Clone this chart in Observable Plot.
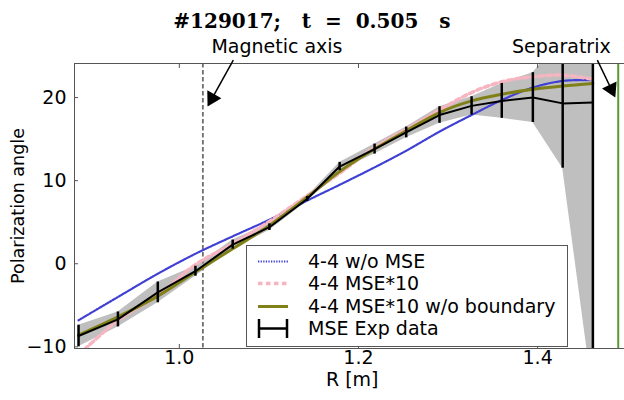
<!DOCTYPE html>
<html><head><meta charset="utf-8">
<script src="https://cdn.jsdelivr.net/npm/d3@7"></script>
<script src="https://cdn.jsdelivr.net/npm/@observablehq/plot@0.6"></script>
<style>
html,body{margin:0;padding:0;background:#fff;overflow:hidden}
#wrap{position:relative;width:624px;height:400px}
#legend{position:absolute;left:246px;top:245px}
</style></head>
<body><div id="wrap"></div>
<script>
// Major radius of each MSE channel [m]
const R = [0.8875, 0.9315, 0.976, 1.018, 1.0596, 1.1006, 1.1427, 1.179, 1.218, 1.2533, 1.2905, 1.3263, 1.360, 1.3947, 1.428, 1.4617];
// MSE experimental polarization angle and its error
const mseExp = [-8.7, -6.7, -3.45, -0.9, 2.3, 4.4, 7.8, 11.7, 13.8, 15.8, 17.9, 19.0, 19.6, 20.0, 19.3, 19.4];
const mseErr = [1.3, 0.9, 1.25, 0.6, 0.55, 0.4, 0.3, 0.5, 0.6, 0.65, 1.0, 1.1, 2.1, 3.0, 7.8, 35];
// Reconstructions
const woMSE    = [-6.8, -4.0, -1.2, 1.2, 3.3, 5.3, 7.6, 9.5, 11.6, 13.6, 15.9, 17.9, 19.7, 21.2, 22.0, 22.1];
const mse10    = [-11.0, -6.8, -3.8, -0.1, 2.4, 5.1, 8.2, 10.9, 14.0, 16.2, 18.5, 20.6, 21.9, 22.5, 22.7, 22.2];
const mse10woB = [-8.6, -6.4, -3.9, -1.0, 1.8, 4.6, 8.0, 11.1, 13.8, 16.0, 18.2, 19.6, 20.4, 21.0, 21.4, 21.7];
const seriesNames = ["4-4 w/o MSE", "4-4 MSE*10", "4-4 MSE*10 w/o boundary", "MSE Exp data"];
const xTicks = [1.0, 1.2, 1.4];
const yTicks = [-10, 0, 10, 20];
const magAxisR = 1.0263;
const separatrixR = 1.490;
// Annotations: label position, arrow tail, arrow head (R, angle)
const annLabels = ["Magnetic axis", "Separatrix"];
const annTextR = [1.109, 1.4265];
const annTextY = [26.1, 26.1];
const annTailR = [1.0603, 1.4667];
const annTailY = [24.5, 24.5];
const annHeadR = [1.0324, 1.4850];
const annHeadY = [19.1, 20.4];
const annHeadAngle = [209, 154.6];
const title = "#129017;   t  =  0.505   s";

const exp = R.map((r, i) => ({r, v: mseExp[i], lo: mseExp[i] - mseErr[i], hi: mseExp[i] + mseErr[i]}));
const models = R.flatMap((r, i) => [
  {r, v: woMSE[i], s: seriesNames[0]},
  {r, v: mse10[i], s: seriesNames[1]},
  {r, v: mse10woB[i], s: seriesNames[2]}
]);
const ann = annLabels.map((t, i) => ({t, tx: annTextR[i], ty: annTextY[i], x1: annTailR[i], y1: annTailY[i], x2: annHeadR[i], y2: annHeadY[i], a: annHeadAngle[i]}));
// triangle centre placed a bit behind the tip
const headC = ann.map(d => ({x: d.x2 - (d.x2 - d.x1) * 0.15, y: d.y2 - (d.y2 - d.y1) * 0.15, a: d.a}));

const FONT = "DejaVu Sans";
const BLUE = "#4040d4", PINK = "#f6b5c0", OLIVE = "#808018";
const chart = Plot.plot({
  width: 624, height: 400,
  marginLeft: 74, marginRight: 0, marginTop: 63, marginBottom: 52,
  style: {fontFamily: FONT, fontSize: "19px", background: "#fff", color: "#000"},
  x: {domain: [0.883, 1.497]},
  y: {domain: [-10.2, 24.1]},
  marks: [
    Plot.areaY(exp, {x: "r", y1: "lo", y2: "hi", fill: "#bfbfbf", clip: true}),
    Plot.ruleX([magAxisR], {stroke: "#6e6e6e", strokeWidth: 1.8, strokeDasharray: "4.5,2.5"}),
    Plot.ruleX([separatrixR], {stroke: "#5a9a32", strokeWidth: 2}),
    Plot.line(models.filter(d => d.s === seriesNames[0]), {x: "r", y: "v", stroke: BLUE, strokeWidth: 2.2, strokeDasharray: "1.3,1.3", curve: "catmull-rom", clip: true}),
    Plot.line(models.filter(d => d.s === seriesNames[1]), {x: "r", y: "v", stroke: PINK, strokeWidth: 3.5, strokeDasharray: "4.5,3.5", curve: "catmull-rom", clip: true}),
    Plot.line(models.filter(d => d.s === seriesNames[2]), {x: "r", y: "v", stroke: OLIVE, strokeWidth: 3, curve: "catmull-rom", clip: true}),
    Plot.line(exp, {x: "r", y: "v", stroke: "#000", strokeWidth: 2, clip: true}),
    Plot.ruleX(exp, {x: "r", y1: "lo", y2: "hi", stroke: "#000", strokeWidth: 2.5, clip: true}),
    Plot.frame({anchor: "left", stroke: "#555"}),
    Plot.frame({anchor: "bottom", stroke: "#555"}),
    Plot.frame({anchor: "top", stroke: "#555"}),
    Plot.axisX({ticks: xTicks, tickSize: 0, tickPadding: 2, tickFormat: d3.format(".1f"), label: null, fontSize: 19}),
    Plot.axisX({ticks: xTicks, tickSize: -4, tickFormat: () => "", label: null, stroke: "#555"}),
    Plot.axisX({anchor: "top", ticks: xTicks, tickSize: -4, tickFormat: () => "", label: null, stroke: "#555"}),
    Plot.axisY({ticks: yTicks, tickSize: 0, tickPadding: 8, label: null, fontSize: 19}),
    Plot.axisY({ticks: yTicks, tickSize: -4, tickFormat: () => "", label: null, stroke: "#555"}),
    Plot.text([title], {x: () => 1.148, frameAnchor: "top", dy: -50, fontFamily: "DejaVu Serif", fontWeight: "bold", fontSize: 20}),
    Plot.text(["R [m]"], {x: () => 1.193, frameAnchor: "bottom", dy: 37, fontSize: 19}),
    Plot.text(["Polarization angle"], {frameAnchor: "left", textAnchor: "middle", dx: -56, rotate: -90, fontSize: 17.5}),
    Plot.text(ann, {x: "tx", y: "ty", text: "t", fontSize: 19}),
    Plot.link(ann, {x1: "x1", y1: "y1", x2: "x2", y2: "y2", stroke: "#000", strokeWidth: 1.5}),
    Plot.dot(headC, {x: "x", y: "y", symbol: "triangle", r: 6, rotate: "a", fill: "#000", stroke: "none"})
  ]
});
document.getElementById("wrap").appendChild(chart);

// Legend overlay
const lg = d3.select("#wrap").append("svg").attr("id", "legend").attr("width", 323).attr("height", 103)
  .style("font-family", FONT).style("font-size", "19px");
lg.append("rect").attr("x", 0.5).attr("y", 0.5).attr("width", 321).attr("height", 101).attr("fill", "#fff").attr("stroke", "#555");
const rowY = [16.5, 38.5, 61.5, 83.5];
const sw = [
  {stroke: BLUE, w: 2.2, dash: "1.3,1.3"},
  {stroke: PINK, w: 3.5, dash: "4.5,3.5"},
  {stroke: OLIVE, w: 3, dash: null}
];
sw.forEach((s, i) => {
  lg.append("line").attr("x1", 12).attr("x2", 42).attr("y1", rowY[i]).attr("y2", rowY[i])
    .attr("stroke", s.stroke).attr("stroke-width", s.w).attr("stroke-dasharray", s.dash);
});
lg.append("line").attr("x1", 13).attr("x2", 41).attr("y1", rowY[3]).attr("y2", rowY[3]).attr("stroke", "#000").attr("stroke-width", 2.5);
[13, 41].forEach(x => lg.append("line").attr("x1", x).attr("x2", x).attr("y1", rowY[3] - 9.5).attr("y2", rowY[3] + 9.5).attr("stroke", "#000").attr("stroke-width", 2.5));
seriesNames.forEach((n, i) => lg.append("text").attr("x", 62).attr("y", rowY[i]).attr("dy", "0.35em").text(n));
</script>
</body></html>
